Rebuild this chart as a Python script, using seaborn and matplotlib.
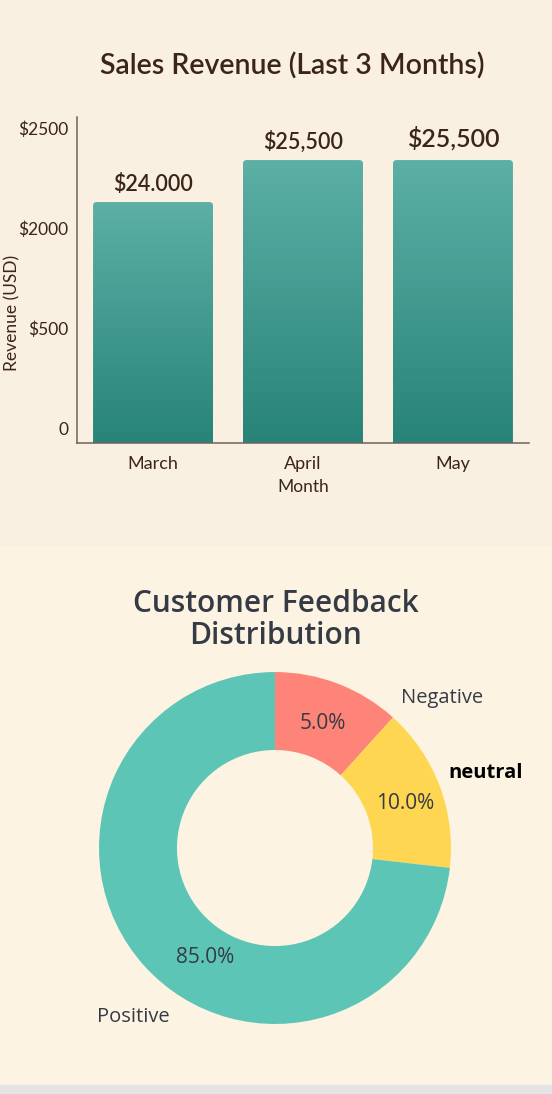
import numpy as np
import matplotlib.pyplot as plt
import seaborn as sns
from matplotlib.patches import Rectangle, FancyBboxPatch
from matplotlib.colors import LinearSegmentedColormap

# data
months = ['March', 'April', 'May']
revenue = [24000, 25500, 25500]
bar_labels = ['$24.000', '$25,500', '$25,500']
ytick_labels = ['0', '$500', '$2000', '$2500']

feedback = ['Negative', 'neutral', 'Positive']
feedback_share = [11.7, 15.1, 73.2]        # wedge sizes as drawn
feedback_pct = ['5.0%', '10.0%', '85.0%']  # printed percentages

sns.set_theme(style='white')
plt.rcParams['font.family'] = ['Lato', 'DejaVu Sans']

brown = '#3b2418'
slate = '#353b45'
sans = ['Open Sans', 'DejaVu Sans']

fig = plt.figure(figsize=(5.52, 10.94), dpi=100)
fig.patch.set_facecolor('#fdf3e3')
# panel backgrounds
fig.add_artist(Rectangle((0, 0.502), 1, 0.498, transform=fig.transFigure,
                         color='#f9f0e2', zorder=-1))
fig.add_artist(Rectangle((0, 0), 1, 0.0082, transform=fig.transFigure,
                         color='#e4e4e4', zorder=-1))

# ---------- bar chart ----------
ax = fig.add_axes([0.1395, 0.595, 0.8188, 0.298])
ax.set_facecolor('none')
sns.barplot(x=months, y=revenue, ax=ax, color='#3d9a8e', width=0.8)

ylo, yhi = 15393, 27036
cmap = LinearSegmentedColormap.from_list('teal', ['#288379', '#5cb0a5'])
grad = np.linspace(0, 1, 256).reshape(-1, 1)
bars = list(ax.patches)
for bar in bars:
    x0, w, h = bar.get_x(), bar.get_width(), bar.get_height()
    bar.set_visible(False)
    clip = FancyBboxPatch((x0, ylo - 500), w, h - ylo + 500,
                          boxstyle='round,pad=0,rounding_size=0.025',
                          mutation_aspect=5300, transform=ax.transData,
                          facecolor='none', edgecolor='none')
    ax.add_patch(clip)
    im = ax.imshow(grad, extent=[x0, x0 + w, ylo, h], origin='lower',
                   cmap=cmap, aspect='auto', zorder=2)
    im.set_clip_path(clip)

ax.set_xlim(-0.507, 2.507)
ax.set_ylim(ylo, yhi)

pads = [5, 5, 7]
sizes = [15.5, 15.5, 18]
for bar, txt, p, s in zip(bars, bar_labels, pads, sizes):
    ax.annotate(txt, (bar.get_x() + bar.get_width() / 2, bar.get_height()),
                xytext=(0, p), textcoords='offset points', ha='center',
                va='bottom', fontsize=s, color=brown, fontweight='semibold')

ax.set_yticks(15929 + 3571 * np.arange(4), ytick_labels)
ax.tick_params(axis='y', length=0, pad=6, labelsize=12.5, labelcolor=brown)
ax.tick_params(axis='x', length=0, pad=9, labelsize=13, labelcolor=brown)
ax.set_xlabel('Month', fontsize=12.5, color=brown, labelpad=5)
ax.set_ylabel('Revenue (USD)', fontsize=12.5, color=brown)
ax.yaxis.set_label_coords(-0.125, 0.40)
for side in ['top', 'right']:
    ax.spines[side].set_visible(False)
for side in ['left', 'bottom']:
    ax.spines[side].set_color('#6e625b')
    ax.spines[side].set_linewidth(1.1)

fig.text(0.529, 0.9397, 'Sales Revenue (Last 3 Months)', ha='center',
         va='center', fontsize=20.5, color=brown, fontweight='semibold')

# ---------- donut chart ----------
ax2 = fig.add_axes([0.0815, 0.0146, 0.8333, 0.4205])
ax2.set_facecolor('none')
wedges, _ = ax2.pie(feedback_share, colors=['#fe8479', '#fed651', '#5cc5b5'],
                    startangle=90, counterclock=False,
                    wedgeprops=dict(width=0.443, edgecolor='none'))
ax2.set_xlim(-1.307, 1.307)
ax2.set_ylim(-1.307, 1.307)
ax2.axis('off')

pct_pos = [(69, 0.76), (19, 0.78), (-122.6, 0.74)]
name_pos = [(41.9, 1.275), (19.7, 1.27), (-130, 1.25)]
for i in range(3):
    a, r = np.deg2rad(pct_pos[i][0]), pct_pos[i][1]
    ax2.text(r * np.cos(a), r * np.sin(a), feedback_pct[i], ha='center',
             va='center', fontsize=15, color=slate, family=sans)
    a, r = np.deg2rad(name_pos[i][0]), name_pos[i][1]
    bold = feedback[i] == 'neutral'
    ax2.text(r * np.cos(a), r * np.sin(a), feedback[i], ha='center',
             va='center', fontsize=14.5, color='black' if bold else slate,
             fontweight='bold' if bold else 'normal', family=sans)

fig.text(0.5, (1094 - 620) / 1094, 'Customer Feedback\nDistribution',
         ha='center', va='center', fontsize=21.5, linespacing=1.12,
         color=slate, fontweight='semibold', family=sans)

plt.savefig('out.png', dpi=100)
